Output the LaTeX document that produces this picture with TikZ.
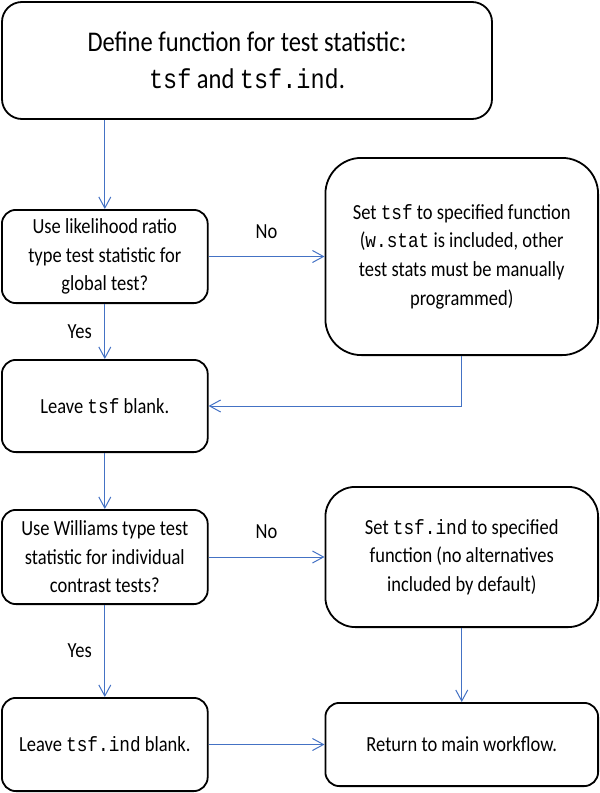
\documentclass[tikz,border=0pt]{standalone}
\usepackage{fontspec}
\setmainfont[FakeStretch=0.86]{Carlito}
\setmonofont[Scale=0.96,FakeStretch=0.86]{Liberation Mono}
\usetikzlibrary{arrows.meta}
\definecolor{linkblue}{RGB}{68,114,196}

\begin{document}
\begin{tikzpicture}[x=1pt,y=-1pt,
  box/.style={draw=black,line width=1.8pt,rounded corners=#1,inner sep=0pt,
    align=center,font=\fontsize{21.5}{28.6}\selectfont},
  box/.default=14pt,
  link/.style={draw=linkblue,line width=1pt,-{Straight Barb[length=11pt,width=12pt]}},
  lbl/.style={font=\fontsize{21.5}{28}\selectfont,inner sep=0pt}]
  \useasboundingbox (0,0) rectangle (600,793);

  \node[box=20pt,minimum width=490pt,minimum height=117pt,
    font=\fontsize{28.5}{37}\selectfont] (define) at (247,60.5)
    {Define function for test statistic:\\\texttt{tsf} and \texttt{tsf.ind}.};

  \node[box,minimum width=205.8pt,minimum height=93.2pt] (lrt) at (104.8,256.5)
    {Use likelihood ratio\\type test statistic for\\global test?};
  \node[box=36pt,minimum width=272.7pt,minimum height=197.2pt] (settsf) at (461.75,256.5)
    {Set \texttt{tsf} to specified function\\(\texttt{w.stat} is included, other\\test stats must be manually\\programmed)};
  \node[box,minimum width=205.8pt,minimum height=92.2pt] (leavetsf) at (104.8,406)
    {Leave \texttt{tsf} blank.};

  \node[box,minimum width=205.8pt,minimum height=94.2pt] (williams) at (104.8,557)
    {Use Williams type test\\statistic for individual\\contrast tests?};
  \node[box=30pt,minimum width=272.7pt,minimum height=140.2pt] (setind) at (461.75,557)
    {Set \texttt{tsf.ind} to specified\\function (no alternatives\\included by default)};
  \node[box,minimum width=205.8pt,minimum height=93.2pt] (leaveind) at (104.8,744.5)
    {Leave \texttt{tsf.ind} blank.};
  \node[box,minimum width=272.7pt,minimum height=83.2pt] (return) at (461.75,744.5)
    {Return to main workflow.};

  \draw[link] (define.south -| lrt.north) -- (lrt.north);
  \draw[link] (lrt.east) -- (settsf.west) node[lbl,midway,yshift=25pt] {No};
  \draw[link] (lrt.south) -- (leavetsf.north) node[lbl,midway,xshift=-25pt] {Yes};
  \draw[link] (settsf.south) |- (leavetsf.east);

  \draw[link] (leavetsf.south) -- (williams.north);
  \draw[link] (williams.east) -- (setind.west) node[lbl,midway,yshift=25pt] {No};
  \draw[link] (williams.south) -- (leaveind.north) node[lbl,midway,xshift=-25pt] {Yes};
  \draw[link] (setind.south) -- (return.north);
  \draw[link] (leaveind.east) -- (return.west);
\end{tikzpicture}
\end{document}
